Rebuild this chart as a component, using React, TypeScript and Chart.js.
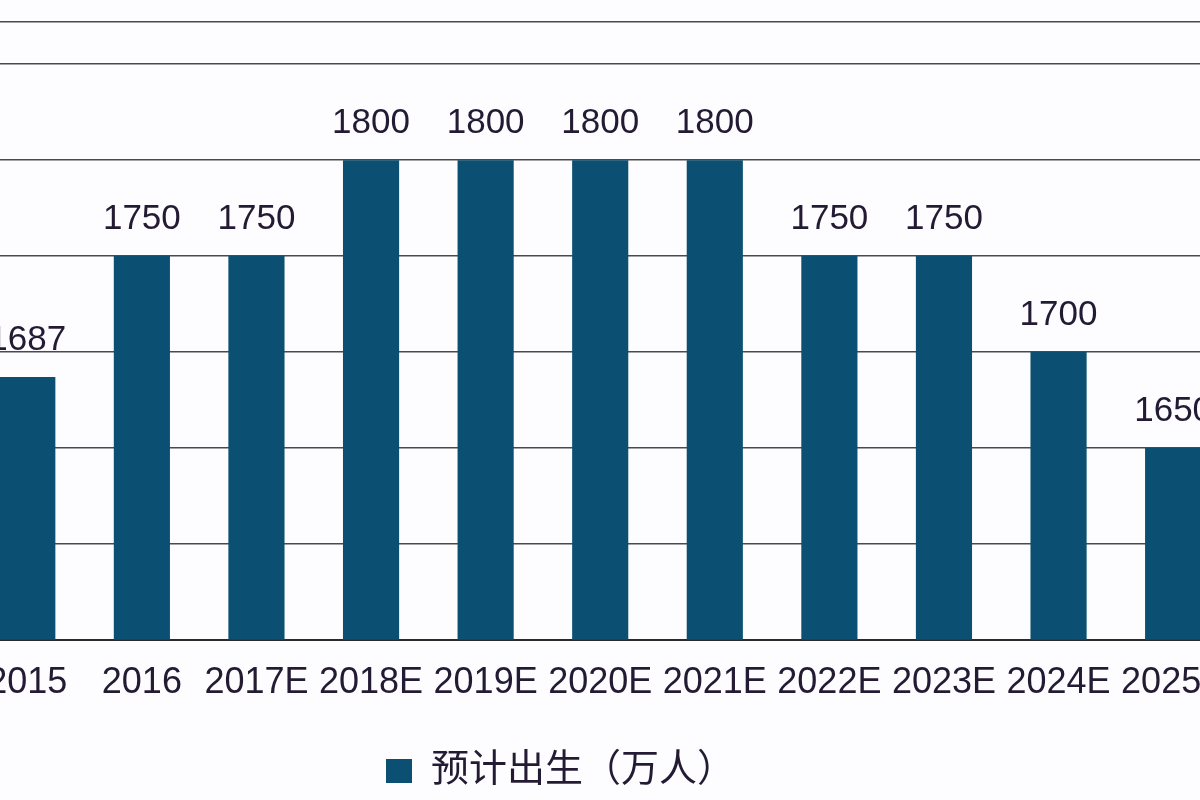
import React, { useEffect, useRef } from "react";
import { Chart, registerables } from "chart.js";

Chart.register(...registerables);

const categories = ["2015", "2016", "2017E", "2018E", "2019E", "2020E", "2021E", "2022E", "2023E", "2024E", "2025E"];
const births = [1687, 1750, 1750, 1800, 1800, 1800, 1800, 1750, 1750, 1700, 1650];
const seriesName = "预计出生（万人）";
const gridValues = [1550, 1600, 1650, 1700, 1750, 1800, 1850, 1872];
const yMin = 1550;
const yMax = 1872;

const BAR = "#0b4f72";
const TEXT = "#231a33";
const FONT = "'Liberation Sans', 'Noto Sans CJK SC', Arial, sans-serif";

const valueLabels = {
  id: "valueLabels",
  afterDatasetsDraw(chart: any) {
    const ctx = chart.ctx;
    const meta = chart.getDatasetMeta(0);
    ctx.save();
    ctx.font = `35px ${FONT}`;
    ctx.fillStyle = TEXT;
    ctx.textAlign = "center";
    ctx.textBaseline = "alphabetic";
    meta.data.forEach((bar: any, i: number) => {
      ctx.fillText(String(births[i]), bar.x, bar.y - 27);
    });
    ctx.restore();
  },
};

const legendShift = {
  id: "legendShift",
  afterLayout(chart: any) {
    const lg = chart.legend;
    if (lg) {
      lg.left -= 46;
      lg.right -= 46;
    }
  },
};

export default function App() {
  const ref = useRef<HTMLCanvasElement | null>(null);
  useEffect(() => {
    if (!ref.current) return;
    const chart = new Chart(ref.current, {
      type: "bar",
      data: {
        labels: categories,
        datasets: [
          {
            label: seriesName,
            data: births,
            backgroundColor: BAR,
            borderWidth: 0,
            barPercentage: 0.49,
            categoryPercentage: 1,
          },
        ],
      },
      options: {
        responsive: false,
        animation: false,
        devicePixelRatio: 1,
        layout: { padding: { top: 22, left: 0, right: 0, bottom: 0 } },
        plugins: {
          tooltip: { enabled: false },
          legend: {
            display: true,
            position: "bottom",
            labels: {
              color: TEXT,
              font: { size: 38, family: FONT },
              boxWidth: 26,
              boxHeight: 24,
              padding: 25,
            },
          },
        },
        scales: {
          x: {
            grid: { display: false, drawTicks: false },
            border: { display: true, color: "#2a2a2a", width: 2 },
            ticks: {
              color: TEXT,
              font: { size: 36, family: FONT },
              padding: 22,
              maxRotation: 0,
              autoSkip: false,
            },
          },
          y: {
            min: yMin,
            max: yMax,
            afterBuildTicks: (scale: any) => {
              scale.ticks = gridValues.map((v) => ({ value: v }));
            },
            grid: { color: "#4a4a4a", lineWidth: 1.5, drawTicks: false },
            border: { display: false },
            ticks: { display: false },
          },
        },
      },
      plugins: [valueLabels, legendShift],
    });
    return () => chart.destroy();
  }, []);
  return (
    <div style={{ position: "fixed", left: 0, top: 0, width: 1200, height: 800, overflow: "hidden", background: "#fdfdff" }}>
      <canvas ref={ref} width={1281} height={800} style={{ position: "absolute", left: -34, top: 0, width: 1281, height: 800 }} />
    </div>
  );
}
